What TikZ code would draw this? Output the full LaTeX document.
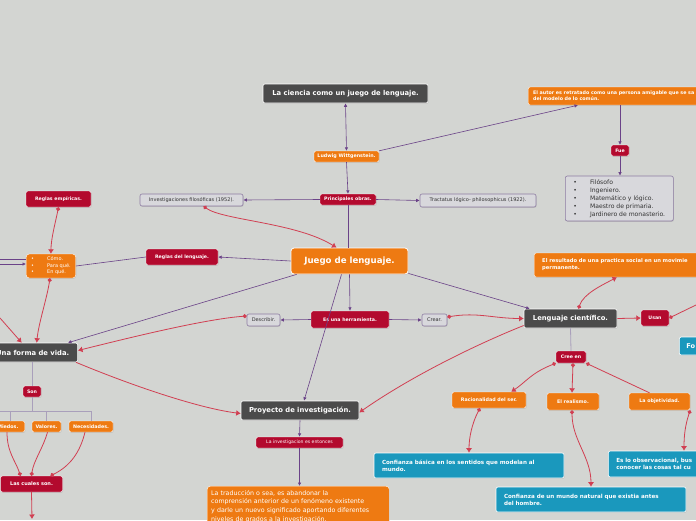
\documentclass[tikz,border=0pt]{standalone}
\usepackage{fontspec}
\setmainfont{DejaVu Sans}
\usetikzlibrary{arrows.meta,shadows}

\definecolor{bgcol}{HTML}{D3D5D2}
\definecolor{darkbox}{HTML}{4B4B4B}
\definecolor{orangebox}{HTML}{EE7A12}
\definecolor{redbox}{HTML}{B30A2E}
\definecolor{bluebox}{HTML}{1A98BD}
\definecolor{graybox}{HTML}{D8D8DC}
\definecolor{grayborder}{HTML}{8E7DA3}
\definecolor{treeline}{HTML}{6A4288}
\definecolor{stemline}{HTML}{A99FBB}
\definecolor{relline}{HTML}{D13F52}

\newcommand*{\bul}{\textbullet\hspace{13pt}}

\begin{document}
\begin{tikzpicture}
[
	x=1pt, y=-1pt,
	shade/.style={drop shadow={shadow xshift=0.6pt,shadow yshift=-0.8pt,opacity=0.25}},
	base/.style={rounded corners=2pt,inner sep=0pt,align=center,text=white,shade},
	darknode/.style={base,fill=darkbox,draw=white,line width=0.6pt,font=\bfseries\fontsize{6.8}{8}\selectfont,minimum height=19pt},
	mainnode/.style={base,fill=orangebox,draw=white,line width=0.8pt,rounded corners=3pt,font=\bfseries\fontsize{8.6}{10}\selectfont,minimum height=26pt},
	rednode/.style={base,fill=redbox,draw=white,line width=0.4pt,font=\bfseries\fontsize{4.7}{5.5}\selectfont,minimum height=11pt},
	orangenode/.style={base,fill=orangebox,draw=white,line width=0.4pt,font=\bfseries\fontsize{4.8}{5.5}\selectfont,minimum height=11pt},
	graynode/.style={base,fill=graybox,draw=grayborder,line width=0.6pt,text=black!80,font=\fontsize{5}{6}\selectfont,minimum height=12pt},
	bluenode/.style={base,fill=bluebox,draw=white,line width=0.6pt,font=\bfseries\fontsize{5.6}{7}\selectfont,align=left,minimum height=25pt,inner xsep=8pt},
	tree/.style={draw=treeline,line width=0.6pt},
	treearr/.style={tree,-{Latex[length=3.5pt,width=3.5pt]}},
	stem/.style={draw=stemline,line width=0.8pt},
	rel/.style={draw=relline,line width=0.8pt,{Circle[length=4pt]}-{Latex[length=4.5pt,width=6pt]}},
	relto/.style={draw=relline,line width=0.8pt,-{Latex[length=4.5pt,width=6pt]}},
	reldot/.style={draw=relline,line width=0.8pt,{Circle[length=4pt]}-}
]

	% canvas
	\useasboundingbox (0,0) rectangle (696,520);
	\clip (0,0) rectangle (696,520);
	\fill[bgcol] (0,0) rectangle (696,520);

	% top: author and works
	\node[darknode,minimum width=165pt] (ciencia) at (345.5,93.5) {La ciencia como un juego de lenguaje.};
	\node[orangenode,anchor=west,align=left,text width=200pt,inner xsep=5pt,minimum height=18pt,font=\bfseries\fontsize{4.8}{6}\selectfont] (autor) at (528,96)
		{El autor es retratado como una persona amigable que se sa\\del modelo de lo común.};
	\node[orangenode,minimum width=65pt] (ludwig) at (346.5,156.5) {Ludwig Wittgenstein.};
	\node[rednode,minimum width=56pt] (obras) at (348,199.5) {Principales obras.};
	\node[graynode,minimum width=103pt] (invest) at (191.5,200) {Investigaciones filosóficas (1952).};
	\node[graynode,minimum width=116pt,minimum height=13pt] (tractatus) at (478,200.5) {Tractatus lógico- philosophicus (1922).};
	\node[rednode,minimum width=18pt] (fue) at (620,150.5) {Fue};
	\node[graynode,align=left,minimum width=108pt,minimum height=45pt,inner xsep=5pt,font=\fontsize{6.1}{8}\selectfont,anchor=west] (oficios) at (565,198.5)
		{\bul Filósofo\\\bul Ingeniero.\\\bul Matemático y lógico.\\\bul Maestro de primaria.\\\bul Jardinero de monasterio.};

	% centre
	\node[mainnode,minimum width=117pt] (juego) at (349.5,261) {Juego de lenguaje.};
	\node[rednode,minimum width=72pt,minimum height=16pt] (reglaslen) at (182,257) {Reglas del lenguaje.};
	\node[rednode,minimum width=65pt,minimum height=16pt] (reglasemp) at (58.5,199) {Reglas empíricas.};
	\node[orangenode,align=left,anchor=west,minimum width=49pt,minimum height=24pt,inner xsep=5pt,rounded corners=3pt,font=\fontsize{5}{6.5}\selectfont] (como) at (26,266)
		{\bul Cómo.\\\bul Para qué.\\\bul En qué.};
	\node[darknode,minimum width=90pt,anchor=east] (vida) at (78,352.5) {Una forma de vida.};
	\node[rednode,minimum width=78pt,minimum height=17pt] (herram) at (350,319.5) {Es una herramienta.};
	\node[graynode,minimum width=33pt] (describir) at (263.5,320) {Describir.};
	\node[graynode,minimum width=25pt] (crear) at (434.5,320) {Crear.};

	% right: scientific language
	\node[darknode,minimum width=93pt] (lencien) at (570.5,318.5) {Lenguaje científico.};
	\node[orangenode,anchor=west,align=left,text width=200pt,inner xsep=8pt,minimum height=24pt,font=\bfseries\fontsize{5.2}{7}\selectfont] (resultado) at (534,265)
		{El resultado de una practica social en un movimie\\permanente.};
	\node[rednode,minimum width=28pt,minimum height=16pt] (usan) at (655,318) {Usan};
	\node[bluenode,anchor=west,text width=40pt,minimum height=18pt,inner xsep=7pt,font=\bfseries\fontsize{6.6}{8}\selectfont] (fo) at (679,346) {Fo};
	\node[rednode,minimum width=30pt,minimum height=12pt] (creeen) at (571,357) {Cree en};
	\node[orangenode,minimum width=74pt,minimum height=16pt] (racional) at (489,400) {Racionalidad del ser.};
	\node[orangenode,minimum width=52pt,minimum height=17pt] (realismo) at (573,401.5) {El realismo.};
	\node[orangenode,minimum width=61pt,minimum height=17pt] (objetiv) at (659.5,401.5) {La objetividad.};
	\node[bluenode,text width=174pt] (confbas) at (469,465.5) {Confianza básica en los sentidos que modelan al\\mundo.};
	\node[bluenode,text width=174pt] (confmun) at (591,499.5) {Confianza de un mundo natural que existia antes\\del hombre.};
	\node[bluenode,anchor=west,text width=120pt,minimum height=26pt] (observ) at (608,464) {Es lo observacional, bus\\conocer las cosas tal cu};

	% bottom: research project
	\node[darknode,minimum width=118pt] (proyecto) at (300,410.5) {Proyecto de investigación.};
	\node[rednode,minimum width=87pt,font=\fontsize{4.6}{5.5}\selectfont] (investig) at (299.5,442.5) {La investigacion es entonces};
	\node[orangenode,anchor=north west,align=left,text width=174pt,inner xsep=4pt,inner ysep=4pt,rounded corners=3pt,font=\fontsize{6.3}{8.6}\selectfont] (traduccion) at (207,486)
		{La traducción o sea, es abandonar la\\comprensión anterior de un fenómeno existente\\y darle un nuevo significado aportando diferentes\\niveles de grados a la investigación.};

	% left: forms of life
	\node[rednode,minimum width=18pt] (son) at (32,391.5) {Son};
	\node[orangenode,minimum width=34pt,anchor=east] (miedos) at (25,426.5) {Miedos.};
	\node[orangenode,minimum width=29pt] (valores) at (46.5,426.5) {Valores.};
	\node[orangenode,minimum width=44pt] (necesid) at (91,426.5) {Necesidades.};
	\node[rednode,minimum width=62pt,minimum height=16pt,font=\bfseries\fontsize{5}{6}\selectfont] (cuales) at (31.5,484) {Las cuales son.};

	% loose ends
	\coordinate (edgeA) at (0,259);
	\coordinate (edgeB) at (0,264);
	\coordinate (edgeC) at (0,318);
	\coordinate (edgeD) at (696,305);
	\coordinate (edgeE) at (32,519);
	\coordinate (barL) at (0,411);
	\coordinate (bar) at (32,411);

	% tree lines
	\draw[tree,{Latex[length=3.5pt,width=3.5pt]}-{Latex[length=3.5pt,width=3.5pt]}] (ciencia.south) -- (ludwig.north);
	\draw[treearr] (ludwig.north east) -- ([xshift=50pt]autor.south west);
	\draw[treearr] (ludwig.south) -- (obras.north);
	\draw[treearr] (obras.west) -- (invest.east);
	\draw[treearr] (obras.east) -- (tractatus.west);
	\draw[tree] (obras.south) -- (juego.north -| obras.south);
	\draw[treearr] (autor.south -| fue.north) -- (fue.north);
	\draw[treearr] (fue.south) -- (oficios.north -| fue.south);
	\draw[treearr] (juego.west) -- (reglaslen.east);
	\draw[tree] (reglaslen.west) -- (como.east);
	\draw[tree] (edgeA) -- (como.west |- edgeA);
	\draw[treearr] (edgeB) -- (como.west |- edgeB);
	\draw[treearr] ([xshift=6pt]juego.south west) -- ([xshift=-10pt]vida.north east);
	\draw[treearr] (juego.south) -- (herram.north);
	\draw[treearr] (herram.west) -- (describir.east);
	\draw[treearr] (herram.east) -- (crear.west);
	\draw[treearr] ([xshift=-8pt]juego.south) -- ([xshift=4pt]proyecto.north);
	\draw[treearr] ([yshift=1pt]juego.south east) -- ([xshift=6pt]lencien.north west);
	\draw[treearr] (proyecto.south) -- (investig.north);
	\draw[treearr] (investig.south) -- (traduccion.north -| investig.south);
	\draw[stem] (lencien.south) -- (creeen.north);
	\draw[stem] (vida.south -| son.north) -- (son.north);
	\draw[stem] (son.south) -- (bar) -- (barL);
	\draw[stem] (miedos.north -| 10,0) |- (bar);
	\draw[stem] (valores.north) |- (bar);
	\draw[stem] (necesid.north) |- (bar);

	% relations
	\draw[rel] ([xshift=12pt]invest.south) .. controls +(20,14) and +(-40,-25) .. ([xshift=-13pt]juego.north);
	\draw[rel] (reglasemp.south) .. controls +(-3,15) and +(0,-15) .. (como.north);
	\draw[rel] ([xshift=-1pt]como.south) .. controls +(-3,20) and +(2,-20) .. ([xshift=4pt]vida.north);
	\draw[relto] (edgeC) -- ([xshift=-11pt]vida.north);
	\draw[rel] ([yshift=4pt]describir.west) .. controls +(-40,3) and +(60,-15) .. ([yshift=2pt]vida.east);
	\draw[relto] ([xshift=-2pt]vida.south east) .. controls +(60,25) and +(-40,-5) .. ([yshift=-3pt]proyecto.west);
	\draw[rel] ([yshift=3pt]crear.east) .. controls +(30,-5) and +(-30,0) .. (lencien.west);
	\draw[relto] ([yshift=-7pt]lencien.west) .. controls +(-50,20) and +(50,-35) .. ([yshift=-2pt]proyecto.east);
	\draw[rel] ([xshift=8pt]lencien.north) .. controls +(5,-15) and +(-15,8) .. ([xshift=83pt]resultado.south west);
	\draw[relto] (lencien.east) -- (usan.west);
	\draw[reldot] (usan.east) -- (edgeD);
	\draw[rel] (creeen.south west) .. controls +(-25,10) and +(15,-10) .. ([xshift=-15pt]racional.north east);
	\draw[rel] ([xshift=2pt]creeen.south) -- ([xshift=-1pt]realismo.north);
	\draw[reldot] (creeen.south east) -- ([xshift=-10pt]objetiv.north);
	\draw[rel] ([xshift=-9pt]racional.south) .. controls +(-8,15) and +(0,-15) .. (confbas.north);
	\draw[rel] ([xshift=-1pt]realismo.south) .. controls +(0,30) and +(0,-30) .. (confmun.north);
	\draw[rel] (objetiv.south east) .. controls +(-5,15) and +(0,-15) .. ([xshift=76pt]observ.north west);
	\draw[reldot] ([xshift=-11pt]cuales.north) .. controls +(-5,-15) and +(0,20) .. (miedos.south -| 7,0);
	\draw[reldot] (cuales.north) .. controls +(2,-15) and +(-4,15) .. ([xshift=1pt]valores.south);
	\draw[reldot] ([xshift=19pt]cuales.north) .. controls +(20,-10) and +(-5,20) .. ([xshift=-6pt]necesid.south);
	\draw[relto] (cuales.south) -- (edgeE);

\end{tikzpicture}
\end{document}
